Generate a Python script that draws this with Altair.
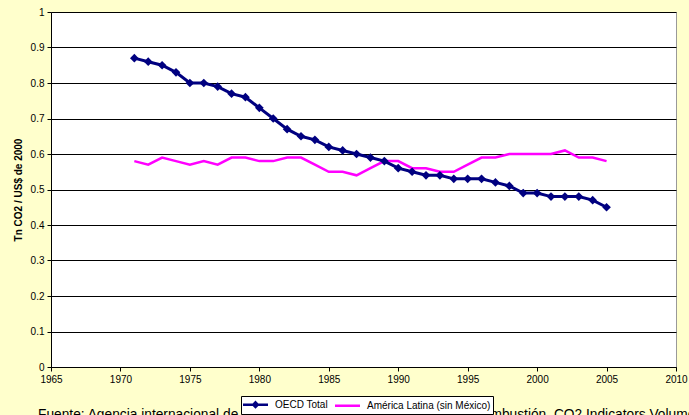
import altair as alt
import pandas as pd

years = list(range(1971, 2006))
oecd = [0.87, 0.86, 0.85, 0.83, 0.80, 0.80, 0.79, 0.77, 0.76, 0.73,
        0.70, 0.67, 0.65, 0.64, 0.62, 0.61, 0.60, 0.59, 0.58, 0.56,
        0.55, 0.54, 0.54, 0.53, 0.53, 0.53, 0.52, 0.51, 0.49, 0.49,
        0.48, 0.48, 0.48, 0.47, 0.45]
latam = [0.58, 0.57, 0.59, 0.58, 0.57, 0.58, 0.57, 0.59, 0.59, 0.58,
         0.58, 0.59, 0.59, 0.57, 0.55, 0.55, 0.54, 0.56, 0.58, 0.58,
         0.56, 0.56, 0.55, 0.55, 0.57, 0.59, 0.59, 0.60, 0.60, 0.60,
         0.60, 0.61, 0.59, 0.59, 0.58]
series_names = ["OECD Total", "América Latina (sin México)"]
series_colors = ["#000080", "#FF00FF"]
x_ticks = list(range(1965, 2011, 5))
y_ticks = [round(i * 0.1, 1) for i in range(11)]
y_title = "Tn CO2 / US$ de 2000"
source = ("Fuente: Agencia internacional de la Energía, CO2 Emissions from "
          "Fuel Combustión, CO2 Indicators Volumen 2007")

df_oecd = pd.DataFrame({"year": years, "value": oecd, "series": series_names[0]})
df_latam = pd.DataFrame({"year": years, "value": latam, "series": series_names[1]})
df_all = pd.concat([df_oecd, df_latam])

FONT = "Liberation Sans"

x_enc = alt.X("year:Q",
              scale=alt.Scale(domain=[x_ticks[0], x_ticks[-1]], nice=False),
              axis=alt.Axis(values=x_ticks, format="d", title=None, grid=False,
                            domainColor="black", tickColor="black", tickSize=4,
                            labelPadding=3, labelFontSize=10, labelColor="black",
                            labelFont=FONT, labelFlush=False))
y_enc = alt.Y("value:Q",
              scale=alt.Scale(domain=[0, 1], nice=False),
              axis=alt.Axis(values=y_ticks, format="~g", title=y_title,
                            grid=True, gridColor="black", gridWidth=1, gridOpacity=1,
                            domainColor="black", tickColor="black", tickSize=4,
                            labelPadding=3, labelFontSize=10, labelColor="black",
                            labelFont=FONT, titleFont=FONT, titleFontSize=10,
                            titleFontWeight="bold", titleColor="black",
                            titlePadding=7))

latam_line = alt.Chart(df_latam).mark_line(
    color=series_colors[1], strokeWidth=2.5).encode(x=x_enc, y=y_enc)
oecd_line = alt.Chart(df_oecd).mark_line(
    color=series_colors[0], strokeWidth=3).encode(x=x_enc, y=y_enc)
oecd_pts = alt.Chart(df_oecd).mark_point(
    shape="diamond", filled=True, color=series_colors[0], size=75,
    opacity=1).encode(x=x_enc, y=y_enc)

# legend symbols: a short line (with a diamond for OECD), 25 px wide at symbolSize 100
path_oecd = "M-2.5,0H2.5M0,-0.45L0.45,0L0,0.45L-0.45,0Z"
path_latam = "M-2.5,0H2.5"

legend_props = dict(title=None, orient="none", direction="horizontal",
                    legendX=190, legendY=384,
                    fillColor="white", strokeColor="black",
                    padding=2, symbolSize=100, symbolOffset=6,
                    symbolStrokeWidth=2.5, symbolOpacity=1,
                    labelFontSize=10, labelFont=FONT,
                    labelColor="black", labelOffset=13,
                    columnPadding=2)

legend_layer = alt.Chart(df_all).transform_filter("false").mark_point(
    filled=False, strokeWidth=2.5).encode(
    x=x_enc, y=y_enc,
    color=alt.Color("series:N",
                    scale=alt.Scale(domain=series_names, range=series_colors),
                    legend=alt.Legend(**legend_props)),
    shape=alt.Shape("series:N",
                    scale=alt.Scale(domain=series_names, range=[path_oecd, path_latam]),
                    legend=alt.Legend(**legend_props)),
)

src_text = alt.Chart(pd.DataFrame({"t": [source]})).mark_text(
    align="left", baseline="alphabetic", fontSize=13.75, font=FONT, color="black"
).encode(text="t:N", x=alt.value(-13), y=alt.value(407))

chart = alt.layer(latam_line, oecd_line, oecd_pts, legend_layer, src_text).properties(
    width=625, height=355,
    autosize=alt.AutoSizeParams(type="none"),
    padding={"left": 51, "top": 12, "right": 13, "bottom": 48},
    background="#FFFFCC",
).configure_view(fill="white", stroke="#999999", strokeWidth=1)

chart.save("out.html", embed_options={"renderer": "svg", "actions": False})
